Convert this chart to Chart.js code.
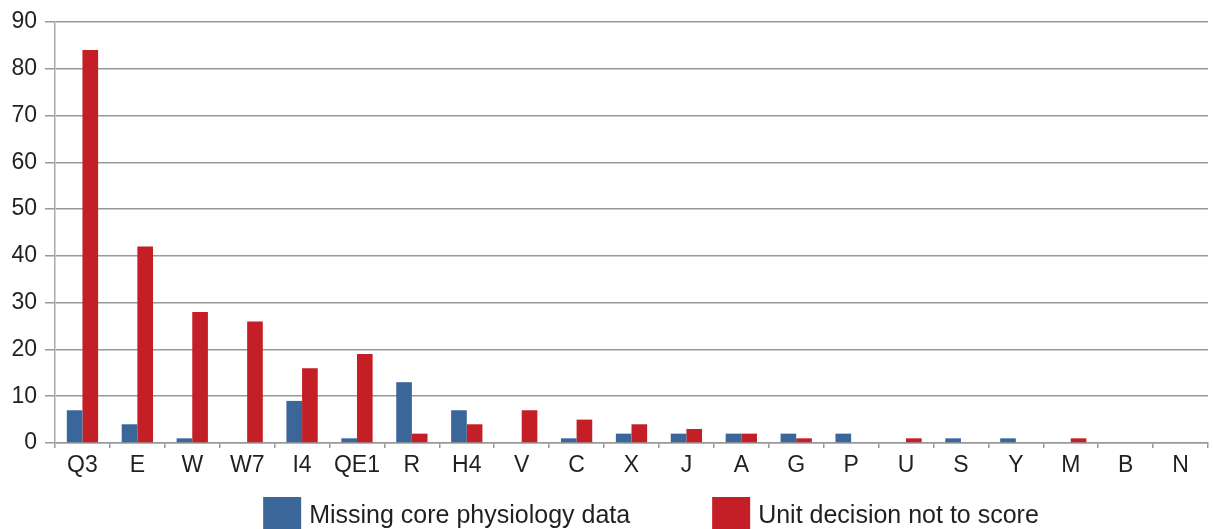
<!DOCTYPE html>
<html>
<head>
<meta charset="utf-8">
<script src="https://cdn.jsdelivr.net/npm/chart.js@4/dist/chart.umd.min.js"></script>
<style>
  html, body { margin: 0; padding: 0; background: #fff; }
  #wrap { width: 1213px; height: 529px; }
</style>
</head>
<body>
<div id="wrap"><canvas id="chart"></canvas></div>
<script>
const categories = ['Q3', 'E', 'W', 'W7', 'I4', 'QE1', 'R', 'H4', 'V', 'C', 'X', 'J', 'A', 'G', 'P', 'U', 'S', 'Y', 'M', 'B', 'N'];
const missingData = [7, 4, 1, 0, 9, 1, 13, 7, 0, 1, 2, 2, 2, 2, 2, 0, 1, 1, 0, 0, 0];
const unitDecision = [84, 42, 28, 26, 16, 19, 2, 4, 7, 5, 4, 3, 2, 1, 0, 1, 0, 0, 1, 0, 0];
const yTicks = [0, 10, 20, 30, 40, 50, 60, 70, 80, 90];

const FONT = '"Liberation Sans", Arial, sans-serif';
Chart.defaults.font.family = FONT;
Chart.defaults.color = '#231f20';

// legend drawn by hand: the item gap is wider than Chart.js legend padding allows
const bottomLegend = {
  id: 'bottomLegend',
  afterDraw(chart) {
    const ctx = chart.ctx;
    const boxW = 38, boxH = 33, textGap = 8, itemGap = 82;
    const top = 497;
    ctx.save();
    ctx.font = '25px ' + FONT;
    ctx.textBaseline = 'middle';
    const items = chart.data.datasets.map(ds => ({
      text: ds.label, color: ds.backgroundColor, w: ctx.measureText(ds.label).width
    }));
    let total = 0;
    items.forEach((it, i) => { total += boxW + textGap + it.w + (i ? itemGap : 0); });
    let x = 651 - total / 2;
    items.forEach(it => {
      ctx.fillStyle = it.color;
      ctx.fillRect(x, top, boxW, boxH);
      ctx.fillStyle = '#231f20';
      ctx.fillText(it.text, x + boxW + textGap, top + 19);
      x += boxW + textGap + it.w + itemGap;
    });
    ctx.restore();
  }
};

new Chart(document.getElementById('chart'), {
  type: 'bar',
  data: {
    labels: categories,
    datasets: [
      { label: 'Missing core physiology data', data: missingData, backgroundColor: '#3a6699' },
      { label: 'Unit decision not to score', data: unitDecision, backgroundColor: '#c41f26' }
    ]
  },
  options: {
    responsive: true,
    maintainAspectRatio: false,
    animation: false,
    datasets: { bar: { categoryPercentage: 0.57, barPercentage: 1.0 } },
    layout: { padding: { top: 22, right: 5, left: 0, bottom: 46 } },
    plugins: {
      tooltip: { enabled: false },
      legend: { display: false }
    },
    scales: {
      x: {
        afterFit: s => { s.height = 40; },
        grid: { display: true, offset: true, drawOnChartArea: false, color: '#999', lineWidth: 1.5, tickLength: 5 },
        border: { color: '#999', width: 1.5 },
        ticks: { font: { size: 23 }, color: '#231f20', maxRotation: 0, autoSkip: false, padding: 4 }
      },
      y: {
        min: 0,
        max: 90,
        afterFit: s => { s.width = 55; },
        afterBuildTicks: axis => { axis.ticks = yTicks.map(v => ({ value: v })); },
        grid: { color: '#999', lineWidth: 1.5, tickLength: 10 },
        border: { color: '#aaa', width: 1.5 },
        ticks: { font: { size: 23 }, color: '#231f20', padding: 8 }
      }
    }
  },
  plugins: [bottomLegend]
});
</script>
</body>
</html>
